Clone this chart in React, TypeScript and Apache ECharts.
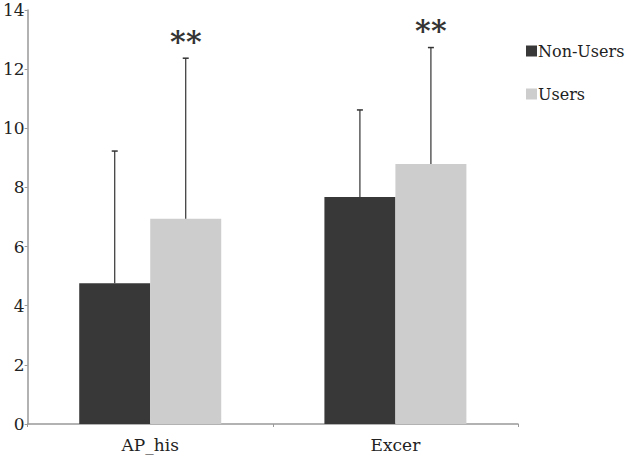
import React, { useEffect, useRef } from "react";
import * as echarts from "echarts";

const categories = ["AP_his", "Excer"];
const nonUsersMean = [4.76, 7.68];
const nonUsersSD = [4.47, 2.94];
const usersMean = [6.94, 8.79];
const usersSD = [5.43, 3.94];
const significance = ["**", "**"];
const yTicks = { min: 0, max: 14, interval: 2 };

const FONT = "DejaVu Serif";
const BAR_W = 71;

function errorSeries(name: string, means: number[], sds: number[], offset: number, marks: string[] | null) {
  return {
    type: "custom",
    name: name + "_err",
    z: 5,
    silent: true,
    data: means.map((m, i) => [i, m, m + sds[i]]),
    renderItem: (params: any, api: any) => {
      const base = api.coord([api.value(0), api.value(1)]);
      const top = api.coord([api.value(0), api.value(2)]);
      const x = base[0] + offset;
      const children: any[] = [
        { type: "line", shape: { x1: x, y1: base[1], x2: x, y2: top[1] }, style: { stroke: "#333", lineWidth: 1.2 } },
        { type: "line", shape: { x1: x - 3, y1: top[1], x2: x + 3, y2: top[1] }, style: { stroke: "#333", lineWidth: 1.5 } },
      ];
      if (marks) {
        const chars = marks[params.dataIndex].split("");
        const step = 16;
        chars.forEach((c, k) => {
          children.push({
            type: "text",
            x: x + (k - (chars.length - 1) / 2) * step,
            y: top[1] - 17,
            style: { text: c, font: "bold 30px " + FONT, fill: "#333", align: "center", verticalAlign: "middle" },
          });
        });
      }
      return { type: "group", children };
    },
  };
}

export default function App() {
  const ref = useRef<HTMLDivElement>(null);
  useEffect(() => {
    const chart = echarts.init(ref.current!, null, { renderer: "svg" });
    chart.setOption({
      animation: false,
      backgroundColor: "#fff",
      grid: { left: 24, right: 112, top: 10, bottom: 31 },
      legend: {
        orient: "vertical",
        left: 521,
        top: 38,
        itemWidth: 11,
        itemHeight: 11,
        itemGap: 27,
        icon: "rect",
        data: ["Non-Users", "Users"],
        textStyle: { fontFamily: FONT, fontSize: 16, color: "#222", padding: [0, 0, 0, -4] },
      },
      xAxis: {
        type: "category",
        data: categories,
        axisLine: { lineStyle: { color: "#999", width: 1.5 } },
        axisTick: { show: true, length: 3, lineStyle: { color: "#999" } },
        axisLabel: { fontFamily: FONT, fontSize: 17, color: "#222", margin: 12 },
      },
      yAxis: {
        type: "value",
        min: yTicks.min,
        max: yTicks.max,
        interval: yTicks.interval,
        splitLine: { show: false },
        axisLine: { show: true, lineStyle: { color: "#999", width: 1.5 } },
        axisTick: { show: true, length: 3, lineStyle: { color: "#999" } },
        axisLabel: { fontFamily: FONT, fontSize: 17, color: "#222", margin: 3 },
      },
      series: [
        {
          type: "bar",
          name: "Non-Users",
          data: nonUsersMean,
          barWidth: BAR_W,
          barGap: "0%",
          itemStyle: { color: "#383838" },
        },
        {
          type: "bar",
          name: "Users",
          data: usersMean,
          barWidth: BAR_W,
          barGap: "0%",
          itemStyle: { color: "#cdcdcd" },
        },
        errorSeries("Non-Users", nonUsersMean, nonUsersSD, -BAR_W / 2, null),
        errorSeries("Users", usersMean, usersSD, BAR_W / 2, significance),
      ],
    });
    return () => chart.dispose();
  }, []);
  return <div ref={ref} style={{ width: 630, height: 455, position: "absolute", left: 0, top: 0 }} />;
}
